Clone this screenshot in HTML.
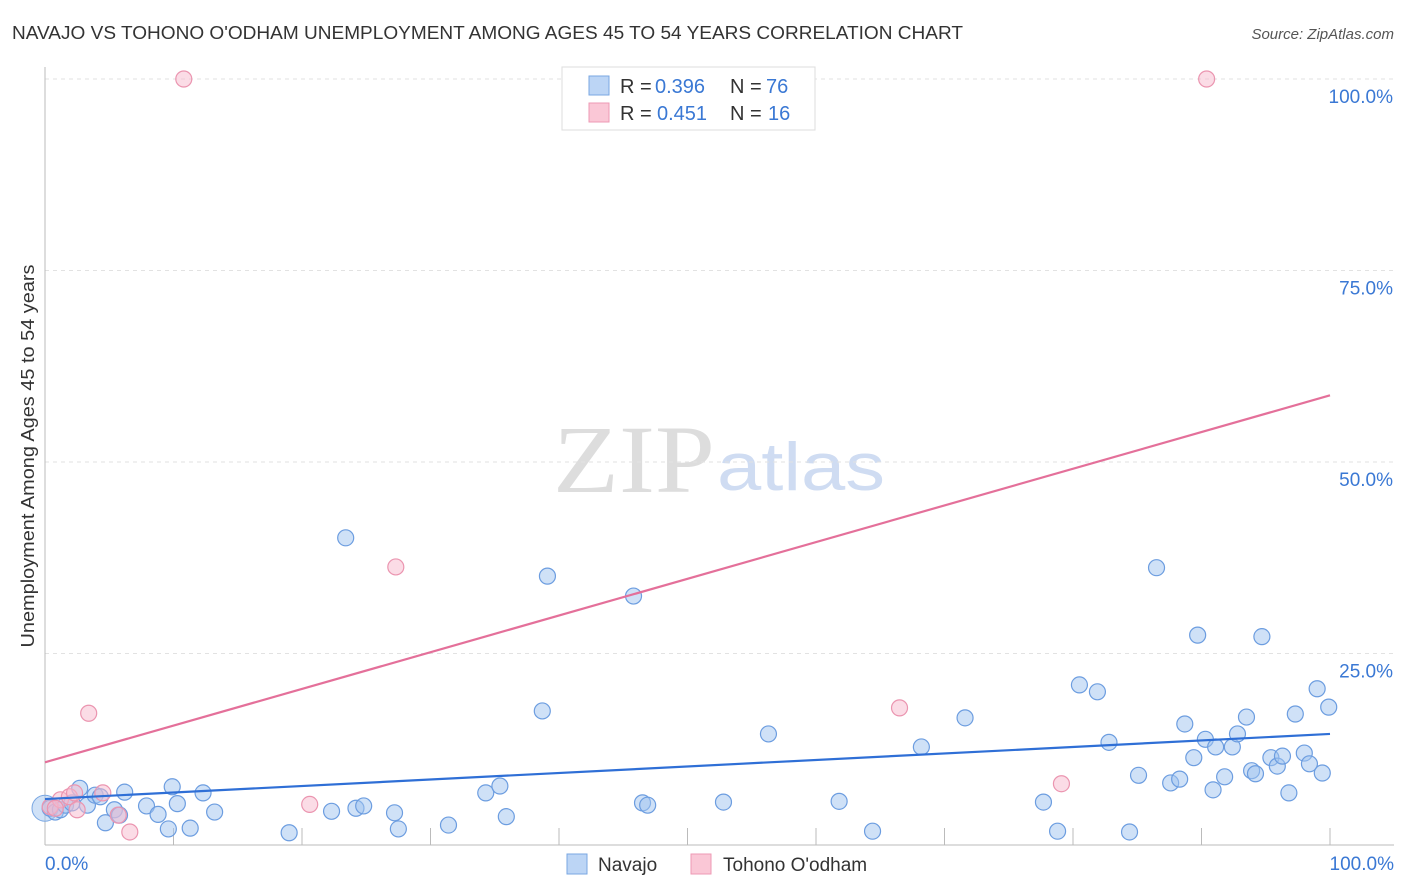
<!DOCTYPE html>
<html><head><meta charset="utf-8"><style>
body{margin:0;background:#fff;font-family:"Liberation Sans",sans-serif;}
svg{display:block}
</style></head><body>
<svg id="chart" width="1406" height="892" xmlns="http://www.w3.org/2000/svg">
<text x="12" y="39" font-size="18" fill="#333" textLength="951" lengthAdjust="spacingAndGlyphs">NAVAJO VS TOHONO O'ODHAM UNEMPLOYMENT AMONG AGES 45 TO 54 YEARS CORRELATION CHART</text>
<text x="1394" y="39" font-size="15" fill="#555" font-style="italic" text-anchor="end">Source: ZipAtlas.com</text>
<g>
<text x="553" y="492" font-family="Liberation Serif" font-size="96" fill="#ddd" textLength="162" lengthAdjust="spacingAndGlyphs">ZIP</text>
<text x="717" y="490" font-size="68" fill="#cfdcf2" textLength="168" lengthAdjust="spacingAndGlyphs">atlas</text>
</g>
<g id="grid"></g>
<g id="axes"></g>
<g id="pts"></g>
<g id="lines"></g>
<g>
<rect x="562" y="67" width="253" height="63" fill="#fff" stroke="#ddd"/>
<rect x="589" y="76" width="20" height="19" fill="#bcd5f5" stroke="#7aa7e2"/>
<text x="620" y="93" font-size="20" fill="#333">R =</text>
<text x="655" y="93" font-size="20" fill="#3a78d4">0.396</text>
<text x="730" y="93" font-size="20" fill="#333">N =</text>
<text x="766" y="93" font-size="20" fill="#3a78d4">76</text>
<rect x="589" y="103" width="20" height="19" fill="#fac7d6" stroke="#ee9ab4"/>
<text x="620" y="120" font-size="20" fill="#333">R =</text>
<text x="657" y="120" font-size="20" fill="#3a78d4">0.451</text>
<text x="730" y="120" font-size="20" fill="#333">N =</text>
<text x="768" y="120" font-size="20" fill="#3a78d4">16</text>
</g>
<g>
<rect x="567" y="854" width="20" height="20" fill="#bcd5f5" stroke="#7aa7e2"/>
<text x="598" y="871" font-size="19" fill="#333">Navajo</text>
<rect x="691" y="854" width="20" height="20" fill="#fac7d6" stroke="#ee9ab4"/>
<text x="723" y="871" font-size="19" fill="#333">Tohono O'odham</text>
</g>
<text transform="translate(34,456) rotate(-90)" font-size="18" fill="#333" text-anchor="middle" textLength="383" lengthAdjust="spacingAndGlyphs">Unemployment Among Ages 45 to 54 years</text>
</svg>
<script>
const navX=[0.4,0.8,1.2,1.6,2.1,2.7,3.3,3.9,4.3,4.7,5.4,5.8,6.2,7.9,8.8,9.6,9.9,10.3,11.3,12.3,13.2,19.0,22.3,23.4,24.2,24.8,27.2,27.5,31.4,34.3,35.4,35.9,38.7,39.1,45.8,46.5,46.9,52.8,56.3,61.8,64.4,68.2,71.6,77.7,78.8,80.5,81.9,82.8,84.4,85.1,86.5,87.6,88.3,88.7,89.4,89.7,90.3,90.9,91.1,91.8,92.4,92.8,93.5,93.9,94.2,94.7,95.4,95.9,96.3,96.8,97.3,98.0,98.4,99.0,99.4,99.9];
const navY=[4.8,4.3,4.6,5.2,5.5,7.4,5.2,6.5,6.3,2.9,4.6,3.9,6.9,5.1,4.0,2.1,7.6,5.4,2.2,6.8,4.3,1.6,4.4,40.1,4.8,5.1,4.2,2.1,2.6,6.8,7.7,3.7,17.5,35.1,32.5,5.5,5.2,5.6,14.5,5.7,1.8,12.8,16.6,5.6,1.8,20.9,20.0,13.4,1.7,9.1,36.2,8.1,8.6,15.8,11.4,27.4,13.8,7.2,12.8,8.9,12.8,14.5,16.7,9.7,9.3,27.2,11.4,10.3,11.6,6.8,17.1,12.0,10.6,20.4,9.4,18.0];
const tohX=[0.4,1.2,1.9,2.5,2.3,3.4,4.5,5.7,6.6,10.8,20.6,27.3,66.5,79.1,90.4,0.8];
const tohY=[5.0,5.9,6.3,4.6,6.8,17.2,6.8,3.9,1.7,100,5.3,36.3,17.9,8.0,100,4.8];
const navTrend=[6.0,14.5];
const tohTrend=[10.8,58.7];
const yTicks=[25,50,75,100];
const yTickLabels=["25.0%","50.0%","75.0%","100.0%"];
const xTicks=[0,10,20,30,40,50,60,70,80,90,100];
const NS="http://www.w3.org/2000/svg";
const sx=v=>45+v*12.85, sy=v=>845-v*7.66;
function mk(tag,attrs,parent){const e=document.createElementNS(NS,tag);for(const k in attrs)e.setAttribute(k,attrs[k]);parent.appendChild(e);return e;}
const grid=document.getElementById('grid'),axes=document.getElementById('axes'),pts=document.getElementById('pts'),lines=document.getElementById('lines');
yTicks.forEach((t,i)=>{
 const l=mk('line',{x1:45,x2:1394,y1:sy(t),y2:sy(t),stroke:'#e2e2e2','stroke-dasharray':'4,4'},grid);
 
 
 const tx=mk('text',{x:1393,y:sy(t)+24,'font-size':19,fill:'#3a78d4','text-anchor':'end'},axes);
 tx.textContent=yTickLabels[i];
 
 
});
let a=mk('line',{x1:45,x2:45,y1:67,y2:845,stroke:'#bbb'},axes);


a=mk('line',{x1:45,x2:1394,y1:845,y2:845,stroke:'#bbb'},axes);


xTicks.forEach(t=>{if(t===0)return;const l=mk('line',{x1:sx(t),x2:sx(t),y1:828,y2:845,stroke:'#bbb'},axes);
 
 });
let xl=mk('text',{x:45,y:870,'font-size':19,fill:'#3a78d4'},axes);xl.textContent='0.0%';


xl=mk('text',{x:1394,y:870,'font-size':19,fill:'#3a78d4','text-anchor':'end'},axes);xl.textContent='100.0%';


const big=mk('circle',{cx:sx(0),cy:sy(4.8),r:13,fill:'rgba(160,195,240,0.5)',stroke:'#7aa7e2'},pts);


navX.forEach((x,i)=>{const c=mk('circle',{cx:sx(x),cy:sy(navY[i]),r:8,fill:'rgba(160,195,240,0.5)',stroke:'#6c9de0','stroke-width':1.2},pts);
 
 });
tohX.forEach((x,i)=>{const c=mk('circle',{cx:sx(x),cy:sy(tohY[i]),r:8,fill:'rgba(248,185,205,0.5)',stroke:'#eb95b0','stroke-width':1.2},pts);
 
 });
let tl=mk('line',{x1:sx(0),x2:sx(100),y1:sy(navTrend[0]),y2:sy(navTrend[1]),stroke:'#2f6fd6','stroke-width':2.2},lines);


tl=mk('line',{x1:sx(0),x2:sx(100),y1:sy(tohTrend[0]),y2:sy(tohTrend[1]),stroke:'#e4709a','stroke-width':2.2},lines);


</script>
</body></html>
